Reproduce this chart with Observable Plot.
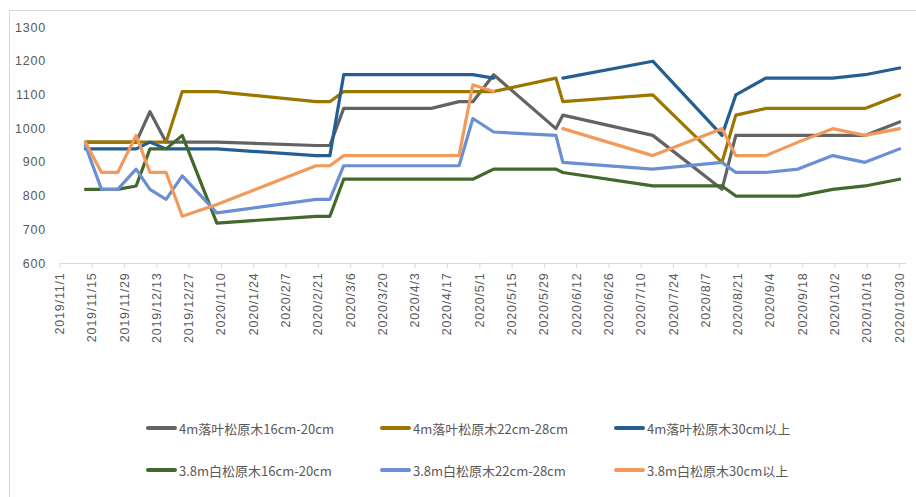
<!DOCTYPE html>
<html>
<head>
<meta charset="utf-8">
<script src="https://cdn.jsdelivr.net/npm/d3@7"></script>
<script src="https://cdn.jsdelivr.net/npm/@observablehq/plot@0.6"></script>
<style>
  html, body { margin: 0; padding: 0; background: #fff; overflow: hidden; }
  #wrap { position: relative; width: 916px; height: 497px; }
  #frame { position: absolute; left: 9px; top: 10px; width: 1000px; height: 600px;
           border-left: 1px solid #d9d9d9; border-top: 1px solid #d9d9d9; pointer-events: none; }
  #chart svg { display: block; }
  #legend { position: relative; height: 97px; padding-top: 7px; box-sizing: border-box;
            font-family: "Noto Sans CJK SC", "Noto Sans", sans-serif; font-size: 13px; color: #595959; }
  .row { height: 42px; position: relative; }
  .item { position: absolute; top: 0; height: 42px; display: flex; align-items: center; }
  .sw { width: 31px; height: 4px; border-radius: 2px; margin-right: 2px; }
</style>
</head>
<body>
<div id="wrap">
  <div id="frame"></div>
  <div id="chart"></div>
  <div id="legend"></div>
</div>
<script>
// ---- data ----
const dates = ["2019-11-12","2019-11-19","2019-11-26","2019-12-04","2019-12-10","2019-12-17","2019-12-24",
  "2020-01-08","2020-02-20","2020-02-26","2020-03-03","2020-04-10","2020-04-22","2020-04-28","2020-05-07",
  "2020-06-03","2020-06-06","2020-07-15","2020-08-14","2020-08-20","2020-09-02","2020-09-16","2020-10-01",
  "2020-10-15","2020-10-30"];

const seriesNames = ["4m落叶松原木16cm-20cm","4m落叶松原木22cm-28cm","4m落叶松原木30cm以上",
  "3.8m白松原木16cm-20cm","3.8m白松原木22cm-28cm","3.8m白松原木30cm以上"];

const larch16 = [960,960,960,960,1050,960,960,960,950,950,1060,1060,1080,1080,1160,1000,1040,980,820,980,980,980,980,980,1020];
const larch22 = [960,960,960,960,960,960,1110,1110,1080,1080,1110,1110,1110,1110,1110,1150,1080,1100,900,1040,1060,1060,1060,1060,1100];
const larch30 = [940,940,940,940,960,940,940,940,920,920,1160,1160,1160,1160,1150,null,1150,1200,980,1100,1150,1150,1150,1160,1180];
const pine16  = [820,820,820,830,940,940,980,720,740,740,850,850,850,850,880,880,870,830,830,800,800,800,820,830,850];
const pine22  = [950,820,820,880,820,790,860,750,790,790,890,890,890,1030,990,980,900,880,900,870,870,880,920,900,940];
const pine30  = [960,870,870,980,870,870,740,775,890,890,920,920,920,1130,1110,null,1000,920,1000,920,920,960,1000,980,1000];

const xTickLabels = ["2019/11/1","2019/11/15","2019/11/29","2019/12/13","2019/12/27","2020/1/10","2020/1/24",
  "2020/2/7","2020/2/21","2020/3/6","2020/3/20","2020/4/3","2020/4/17","2020/5/1","2020/5/15","2020/5/29",
  "2020/6/12","2020/6/26","2020/7/10","2020/7/24","2020/8/7","2020/8/21","2020/9/4","2020/9/18","2020/10/2",
  "2020/10/16","2020/10/30"];
const yTicks = [600,700,800,900,1000,1100,1200,1300];

const colors = ["#636363","#9c7700","#255e91","#43682b","#6b8fd2","#f19a5c"];

// ---- build long table ----
const parseISO = d3.utcParse("%Y-%m-%d");
const parseLbl = d3.utcParse("%Y/%m/%d");
const allSeries = [larch16, larch22, larch30, pine16, pine22, pine30];
const rows = [];
allSeries.forEach((vals, si) => {
  vals.forEach((v, i) => rows.push({series: seriesNames[si], date: parseISO(dates[i]), value: v}));
});
const tickDates = xTickLabels.map(s => parseLbl(s));
const fmt = d3.utcFormat("%Y/%-m/%-d");

const chart = Plot.plot({
  width: 916,
  height: 400,
  marginLeft: 59.5,
  marginRight: 10,
  marginTop: 27,
  marginBottom: 137,
  style: {fontFamily: "'Liberation Sans', sans-serif", fontSize: "12.5px", color: "#595959", background: "transparent"},
  x: {type: "utc", domain: [parseISO("2019-11-01"), parseISO("2020-11-02")]},
  y: {domain: [600, 1300]},
  color: {domain: seriesNames, range: colors},
  marks: [
    Plot.ruleY([600], {stroke: "#d9d9d9", strokeWidth: 1}),
    Plot.axisY({ticks: yTicks, tickFormat: d => String(d), tickSize: 0, tickPadding: 14, label: null, fill: "#595959"}),
    Plot.axisX({ticks: tickDates, tickFormat: fmt, tickRotate: -90, tickSize: 5, tickPadding: 4,
      stroke: "#d9d9d9", fill: "#595959", label: null, fontSize: 12.5}),
    Plot.lineY(rows, {x: "date", y: "value", z: "series", stroke: "series",
      strokeWidth: 3.2, strokeLinejoin: "round", curve: "linear"})
  ]
});
chart.querySelectorAll("text").forEach(t => t.style.letterSpacing = "0.8px");
document.getElementById("chart").appendChild(chart);

// ---- legend ----
const legend = document.getElementById("legend");
const xs = [146, 380, 614];
for (let r = 0; r < 2; r++) {
  const row = document.createElement("div");
  row.className = "row";
  for (let c = 0; c < 3; c++) {
    const i = r * 3 + c;
    const it = document.createElement("div");
    it.className = "item";
    it.style.left = xs[c] + "px";
    const sw = document.createElement("div");
    sw.className = "sw";
    sw.style.background = colors[i];
    const tx = document.createElement("span");
    tx.textContent = seriesNames[i];
    it.appendChild(sw); it.appendChild(tx);
    row.appendChild(it);
  }
  legend.appendChild(row);
}
</script>
</body>
</html>
